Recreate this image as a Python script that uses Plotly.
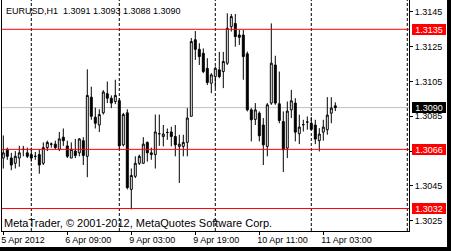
import plotly.graph_objects as go

# ---- bar timeline (H1 bars) ----
days = ["5 Apr", "6 Apr", "9 Apr", "10 Apr", "11 Apr"]
day_first_hour = [17, 0, 0, 0, 0]
day_last_hour = [23, 21, 23, 23, 6]

bar_time = []
for d, h0, h1 in zip(days, day_first_hour, day_last_hour):
    for h in range(h0, h1 + 1):
        bar_time.append(f"{d} {h:02d}:00")

open_ = [1.3061, 1.3066, 1.3061, 1.3058, 1.3061, 1.3066, 1.3064, 1.3063, 1.3062, 1.3063,
         1.3058, 1.3067, 1.3069, 1.3069, 1.3066, 1.3073, 1.3068, 1.3061, 1.3065, 1.3064,
         1.3071, 1.3062, 1.3096, 1.30845, 1.3080, 1.3087, 1.3098, 1.30954, 1.30935, 1.3094,
         1.30686, 1.3087, 1.3043, 1.30505, 1.3058, 1.3058, 1.3070, 1.3063, 1.3063, 1.3075,
         1.30734, 1.30757, 1.3076, 1.30734, 1.30677, 1.30677, 1.3070, 1.3085, 1.3129, 1.31235,
         1.31212, 1.31126, 1.3104, 1.31078, 1.31117, 1.31107, 1.31155, 1.31365, 1.31384, 1.31317,
         1.31317, 1.31209, 1.30887, 1.30832, 1.30868, 1.3080, 1.30677, 1.30926, 1.31145, 1.30922,
         1.3082, 1.30667, 1.30887, 1.30926, 1.3075, 1.30802, 1.30817, 1.3081, 1.3080, 1.3071,
         1.30759, 1.30773, 1.30868, 1.3091]
high = [1.3074, 1.3067, 1.3064, 1.3065, 1.3068, 1.3068, 1.3067, 1.3067, 1.30645, 1.3066,
        1.3070, 1.3071, 1.3070, 1.3071, 1.3076, 1.3078, 1.3071, 1.3070, 1.3072, 1.30725,
        1.3073, 1.3112, 1.3102, 1.3090, 1.3089, 1.3100, 1.3105, 1.3097, 1.3106, 1.30954,
        1.3087, 1.3089, 1.3055, 1.3062, 1.3063, 1.3073, 1.30705, 1.3067, 1.3086, 1.3086,
        1.3080, 1.3078, 1.3079, 1.3080, 1.30744, 1.30744, 1.30897, 1.3130, 1.3134, 1.3127,
        1.3124, 1.31184, 1.31098, 1.31136, 1.3122, 1.3122, 1.31442, 1.31438, 1.31438, 1.31346,
        1.31346, 1.31222, 1.30897, 1.30926, 1.30878, 1.3084, 1.30926, 1.31384, 1.31198, 1.31107,
        1.30878, 1.30935, 1.31002, 1.30954, 1.30859, 1.3083, 1.30849, 1.30845, 1.3083, 1.30782,
        1.3083, 1.3096, 1.3096, 1.3093]
low = [1.3055, 1.3060, 1.3054, 1.3055, 1.3056, 1.3062, 1.3061, 1.3059, 1.3060, 1.3052,
       1.3057, 1.3065, 1.3067, 1.3066, 1.3065, 1.3068, 1.3061, 1.3061, 1.3061, 1.3062,
       1.3057, 1.3050, 1.3083, 1.3078, 1.3076, 1.3086, 1.30926, 1.30897, 1.3092, 1.3066,
       1.30677, 1.3043, 1.30315, 1.30495, 1.3057, 1.30577, 1.3059, 1.3060, 1.3055, 1.3068,
       1.30677, 1.30715, 1.30677, 1.3062, 1.30467, 1.3062, 1.3062, 1.3085, 1.31174, 1.31145,
       1.31098, 1.3103, 1.30983, 1.31012, 1.31069, 1.31012, 1.31145, 1.31337, 1.3125, 1.3126,
       1.3106, 1.30878, 1.30706, 1.3080, 1.30706, 1.3057, 1.3062, 1.30916, 1.30916, 1.3081,
       1.3053, 1.3061, 1.3084, 1.30706, 1.3069, 1.30763, 1.30773, 1.3077, 1.3069, 1.30648,
       1.3071, 1.30744, 1.3081, 1.3088]
close = [1.3064, 1.3062, 1.3057, 1.3062, 1.3064, 1.3066, 1.3062, 1.3061, 1.3062, 1.3057,
         1.3067, 1.3070, 1.3069, 1.3067, 1.3072, 1.3071, 1.3062, 1.3066, 1.30625, 1.3072,
         1.30625, 1.3097, 1.3085, 1.3081, 1.3086, 1.3099, 1.30954, 1.30926, 1.3097, 1.3068,
         1.3086, 1.3044, 1.3051, 1.3058, 1.3062, 1.3069, 1.3064, 1.3064, 1.3076, 1.3075,
         1.30748, 1.30757, 1.30734, 1.30686, 1.3069, 1.3070, 1.3084, 1.3128, 1.31235, 1.31193,
         1.31107, 1.31044, 1.31088, 1.31126, 1.31078, 1.31165, 1.31356, 1.31423, 1.31308, 1.31304,
         1.31193, 1.30887, 1.3083, 1.30887, 1.30738, 1.30686, 1.30916, 1.31155, 1.30926, 1.30826,
         1.30658, 1.3088, 1.30939, 1.30759, 1.30788, 1.30802, 1.30817, 1.30775, 1.30719, 1.30748,
         1.30788, 1.30857, 1.30897, 1.3090]

tick_times = ["5 Apr 17:00", "6 Apr 09:00", "9 Apr 03:00", "9 Apr 19:00", "10 Apr 11:00", "11 Apr 03:00"]
tick_labels = ["5 Apr 2012", "6 Apr 09:00", "9 Apr 03:00", "9 Apr 19:00", "10 Apr 11:00", "11 Apr 03:00"]
separator_times = ["6 Apr 00:00", "9 Apr 00:00", "10 Apr 00:00", "11 Apr 00:00"]

price_ticks = [1.3025, 1.3045, 1.3065, 1.3085, 1.3105, 1.3125, 1.3145]
price_ticktext = ["1.3025", "1.3045", "", "1.3085", "1.3105", "1.3125", "1.3145"]
red_levels = [1.3135, 1.3066, 1.3032]
bid_level = 1.3090

header = "EURUSD,H1  1.3091 1.3093 1.3088 1.3090"
copyright_text = "MetaTrader, © 2001-2012, MetaQuotes Software Corp."

x = list(range(len(bar_time)))
FONT = "Liberation Sans, Arial, sans-serif"

fig = go.Figure()
fig.add_trace(go.Candlestick(
    x=x, open=open_, high=high, low=low, close=close,
    increasing=dict(fillcolor="white", line=dict(color="black", width=1)),
    decreasing=dict(fillcolor="black", line=dict(color="black", width=1)),
    whiskerwidth=0, hoverinfo="skip", showlegend=False,
))

shapes = []
sep_idx = [bar_time.index(t) for t in separator_times]
sep_idx.append(sep_idx[-1] + 24)
for s in sep_idx:
    shapes.append(dict(type="line", xref="x", yref="paper", x0=s, x1=s, y0=0, y1=1,
                       line=dict(color="black", width=1, dash="3px,2px"), layer="below"))
shapes.append(dict(type="line", xref="paper", yref="y", x0=0, x1=1, y0=bid_level, y1=bid_level,
                   line=dict(color="#c0c0c0", width=1), layer="below"))
for lv in red_levels:
    shapes.append(dict(type="line", xref="paper", yref="y", x0=0, x1=1, y0=lv, y1=lv,
                       line=dict(color="#ff0000", width=1), layer="above"))
# black window bands (right and bottom)
shapes.append(dict(type="rect", xref="paper", yref="paper", x0=-0.01, x1=1.11, y0=-0.0693, y1=-0.095,
                   line=dict(width=0), fillcolor="black"))
shapes.append(dict(type="rect", xref="paper", yref="paper", x0=1.0934, x1=1.11, y0=-0.095, y1=1.01,
                   line=dict(width=0), fillcolor="black"))

annotations = [
    dict(text=header, xref="paper", yref="paper", x=0, y=1, xanchor="left", yanchor="top",
         xshift=2, yshift=-4, showarrow=False, font=dict(family=FONT, size=9, color="black")),
    dict(text=copyright_text, xref="paper", yref="paper", x=0, y=0, xanchor="left", yanchor="bottom",
         xshift=0, yshift=0, showarrow=False, font=dict(family=FONT, size=11, color="black")),
]
label_x = (412.3 - 2) / 407
for lv in red_levels:
    annotations.append(dict(text=f"{lv:.4f}", xref="paper", yref="y", x=label_x, y=lv,
                            xanchor="left", yanchor="middle", showarrow=False, bgcolor="#ff0000",
                            width=32, height=9, borderpad=1, borderwidth=0, align="center",
                            font=dict(family=FONT, size=9, color="white")))
annotations.append(dict(text=f"{bid_level:.4f}", xref="paper", yref="y", x=label_x, y=bid_level,
                        xanchor="left", yanchor="middle", showarrow=False, bgcolor="black",
                        width=32, height=9, borderpad=1, borderwidth=0, align="center",
                        font=dict(family=FONT, size=9, color="white")))

tick_idx = [bar_time.index(t) for t in tick_times]

fig.update_layout(
    width=451, height=251,
    margin=dict(l=2, r=42, t=0, b=20, pad=0),
    paper_bgcolor="white", plot_bgcolor="white",
    shapes=shapes, annotations=annotations,
    showlegend=False,
    xaxis=dict(range=[-0.325, 101.425], showgrid=False, zeroline=False,
               showline=True, mirror=True, linecolor="black", linewidth=1,
               ticks="outside", ticklen=3, tickcolor="black", tickwidth=1,
               tickvals=tick_idx, ticktext=tick_labels, ticklabelposition="outside right",
               ticklabelshift=-3,
               tickfont=dict(family=FONT, size=9, color="black"),
               rangeslider=dict(visible=False), fixedrange=True),
    yaxis=dict(range=[1.301908, 1.315184], side="right", showgrid=False, zeroline=False,
               showline=True, mirror=True, linecolor="black", linewidth=1,
               ticks="outside", ticklen=3, tickcolor="black", tickwidth=1,
               tickvals=price_ticks, ticktext=price_ticktext,
               tickfont=dict(family=FONT, size=9, color="black"), fixedrange=True),
)

fig.write_html("out.html")
